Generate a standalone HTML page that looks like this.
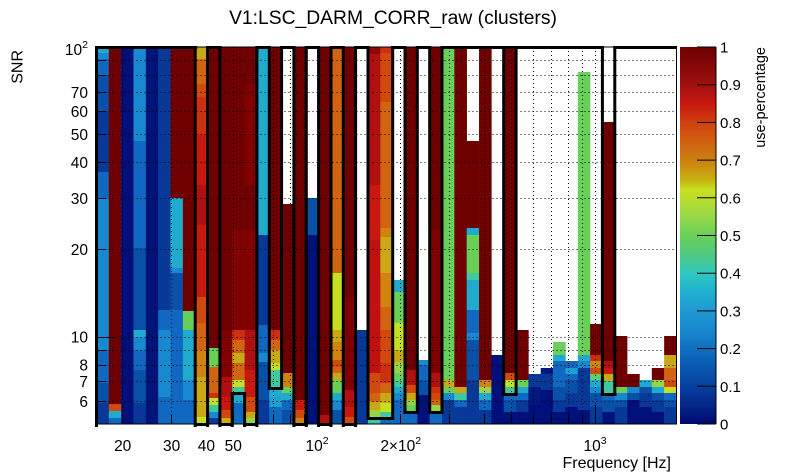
<!DOCTYPE html>
<html><head><meta charset="utf-8"><style>
html,body{margin:0;padding:0;background:#fff;width:805px;height:472px;overflow:hidden}
svg{display:block}
text{font-family:"Liberation Sans",Arial,sans-serif;fill:#000}
.DR{fill:#6e0000}.DR2{fill:#800000}.R0{fill:#900808}.R1{fill:#b01010}.Rc{fill:#c01010}.R2{fill:#c81810}.R3{fill:#cc3010}
.OR1{fill:#d04a10}.OR2{fill:#d06410}.OR3{fill:#d08410}.Y1{fill:#c8a814}.YG{fill:#c4e020}.LG{fill:#98d444}.G{fill:#68d058}.G2{fill:#58d070}
.TL{fill:#40c8a0}.C{fill:#20aacc}.C2{fill:#20a0d0}.B1{fill:#1888d0}.B2{fill:#1068c0}.B3{fill:#0850a8}.B4{fill:#083898}.N1{fill:#001880}.N{fill:#00107a}.N4{fill:#001478}
</style></head><body>
<svg width="805" height="472" viewBox="0 0 805 472" xmlns="http://www.w3.org/2000/svg">
<defs>
<linearGradient id="pal" x1="0" y1="0" x2="0" y2="1">
<stop offset="0" stop-color="#6e0000"/><stop offset="0.05" stop-color="#860808"/><stop offset="0.10" stop-color="#a01010"/>
<stop offset="0.15" stop-color="#c81810"/><stop offset="0.20" stop-color="#d04010"/><stop offset="0.25" stop-color="#d06010"/>
<stop offset="0.30" stop-color="#cc8010"/><stop offset="0.35" stop-color="#c8b010"/><stop offset="0.38" stop-color="#c8e020"/>
<stop offset="0.45" stop-color="#98d848"/><stop offset="0.50" stop-color="#68d058"/><stop offset="0.55" stop-color="#50c880"/>
<stop offset="0.60" stop-color="#30c8c0"/><stop offset="0.65" stop-color="#20b0d0"/><stop offset="0.70" stop-color="#2098d0"/>
<stop offset="0.75" stop-color="#1888d0"/><stop offset="0.80" stop-color="#1070c0"/><stop offset="0.85" stop-color="#0858b0"/>
<stop offset="0.90" stop-color="#0840a0"/><stop offset="0.95" stop-color="#042888"/><stop offset="1" stop-color="#000870"/>
</linearGradient>
</defs>

<text x="393" y="24" font-size="19.3" text-anchor="middle">V1:LSC_DARM_CORR_raw (clusters)</text>

<!-- histogram cells -->
<g transform="translate(96.5,0)"><rect width="12.6" y="47" height="6.5" class="C"/><rect width="12.6" y="53" height="6.5" class="B1"/><rect width="12.6" y="59" height="16.5" class="B2"/><rect width="12.6" y="75" height="37.5" class="B3"/><rect width="12.6" y="112" height="60.5" class="B4"/><rect width="12.6" y="172" height="26.5" class="B2"/><rect width="12.6" y="198" height="152.5" class="B1"/><rect width="12.6" y="350" height="33.5" class="B2"/><rect width="12.6" y="383" height="20.5" class="B3"/><rect width="12.6" y="403" height="21" class="B4"/></g>
<g transform="translate(108.84,0)"><rect width="12.6" y="47" height="357.5" class="DR"/><rect width="12.6" y="404" height="7.5" class="OR1"/><rect width="12.6" y="411" height="7.5" class="C"/><rect width="12.6" y="418" height="6" class="B2"/></g>
<g transform="translate(121.18,0)"><rect width="12.6" y="47" height="377" class="N"/></g>
<g transform="translate(133.52,0)"><rect width="12.6" y="47" height="94.5" class="B1"/><rect width="12.6" y="141" height="107.5" class="B2"/><rect width="12.6" y="248" height="82.5" class="B3"/><rect width="12.6" y="330" height="7.5" class="C"/><rect width="12.6" y="337" height="13.5" class="B1"/><rect width="12.6" y="350" height="20.5" class="B2"/><rect width="12.6" y="370" height="33.5" class="B3"/><rect width="12.6" y="403" height="21" class="B4"/></g>
<g transform="translate(145.86,0)"><rect width="12.6" y="47" height="377" class="N4"/></g>
<g transform="translate(158.2,0)"><rect width="12.6" y="47" height="263.5" class="B4"/><rect width="12.6" y="310" height="20.5" class="B2"/><rect width="12.6" y="330" height="67.5" class="B1"/><rect width="12.6" y="397" height="27" class="B2"/></g>
<g transform="translate(170.54,0)"><rect width="12.6" y="47" height="151.5" class="DR"/><rect width="12.6" y="198" height="70.5" class="C"/><rect width="12.6" y="268" height="5.5" class="B1"/><rect width="12.6" y="273" height="37.5" class="B3"/><rect width="12.6" y="310" height="114" class="B2"/></g>
<g transform="translate(182.88,0)"><rect width="12.6" y="47" height="264.5" class="DR"/><rect width="12.6" y="311" height="19.5" class="G"/><rect width="12.6" y="330" height="50.5" class="C"/><rect width="12.6" y="380" height="20.5" class="B1"/><rect width="12.6" y="400" height="24" class="B2"/></g>
<g transform="translate(195.22,0)"><rect width="12.6" y="47" height="12.5" class="Y1"/><rect width="12.6" y="59" height="25.5" class="OR2"/><rect width="12.6" y="84" height="13.5" class="OR1"/><rect width="12.6" y="97" height="38.5" class="R3"/><rect width="12.6" y="135" height="50.5" class="R2"/><rect width="12.6" y="185" height="40.5" class="R1"/><rect width="12.6" y="225" height="72.5" class="R2"/><rect width="12.6" y="297" height="26.5" class="OR1"/><rect width="12.6" y="323" height="27.5" class="OR2"/><rect width="12.6" y="350" height="27.5" class="OR3"/><rect width="12.6" y="377" height="40.5" class="Y1"/><rect width="12.6" y="417" height="7" class="YG"/></g>
<g transform="translate(207.56,0)"><rect width="12.6" y="47" height="301.5" class="DR"/><rect width="12.6" y="348" height="19.5" class="G"/><rect width="12.6" y="367" height="26.5" class="OR2"/><rect width="12.6" y="393" height="5.5" class="R3"/><rect width="12.6" y="398" height="7.5" class="YG"/><rect width="12.6" y="405" height="7.5" class="TL"/><rect width="12.6" y="412" height="6.5" class="B1"/><rect width="12.6" y="418" height="6" class="B4"/></g>
<g transform="translate(219.9,0)"><rect width="12.6" y="47" height="283.5" class="DR"/><rect width="12.6" y="330" height="47.5" class="DR2"/><rect width="12.6" y="377" height="20.5" class="R1"/><rect width="12.6" y="397" height="13.5" class="R2"/><rect width="12.6" y="410" height="8.5" class="OR1"/><rect width="12.6" y="418" height="6" class="Y1"/></g>
<g transform="translate(232.24,0)"><rect width="12.6" y="47" height="183.5" class="DR"/><rect width="12.6" y="230" height="100.5" class="DR2"/><rect width="12.6" y="330" height="10.5" class="R3"/><rect width="12.6" y="340" height="13.5" class="OR2"/><rect width="12.6" y="353" height="10.5" class="Y1"/><rect width="12.6" y="363" height="17.5" class="OR2"/><rect width="12.6" y="380" height="7.5" class="YG"/><rect width="12.6" y="387" height="6.5" class="TL"/><rect width="12.6" y="393" height="10.5" class="C"/><rect width="12.6" y="403" height="21" class="B2"/></g>
<g transform="translate(244.58,0)"><rect width="12.6" y="47" height="37.5" class="DR"/><rect width="12.6" y="84" height="101.5" class="DR2"/><rect width="12.6" y="185" height="45.5" class="DR"/><rect width="12.6" y="230" height="100.5" class="DR2"/><rect width="12.6" y="330" height="40.5" class="R1"/><rect width="12.6" y="370" height="27.5" class="R2"/><rect width="12.6" y="397" height="15.5" class="OR1"/><rect width="12.6" y="412" height="6.5" class="Y1"/><rect width="12.6" y="418" height="6" class="LG"/></g>
<g transform="translate(256.92,0)"><rect width="12.6" y="47" height="188.5" class="C"/><rect width="12.6" y="235" height="90.5" class="B4"/><rect width="12.6" y="325" height="28.5" class="B2"/><rect width="12.6" y="353" height="9.5" class="B1"/><rect width="12.6" y="362" height="38.5" class="B3"/><rect width="12.6" y="400" height="24" class="B4"/></g>
<g transform="translate(269.26,0)"><rect width="12.6" y="47" height="283.5" class="DR"/><rect width="12.6" y="330" height="10.5" class="R3"/><rect width="12.6" y="340" height="10.5" class="OR2"/><rect width="12.6" y="350" height="13.5" class="Y1"/><rect width="12.6" y="363" height="7.5" class="YG"/><rect width="12.6" y="370" height="17.5" class="TL"/><rect width="12.6" y="387" height="10.5" class="C"/><rect width="12.6" y="397" height="10.5" class="C2"/><rect width="12.6" y="407" height="17" class="B2"/></g>
<g transform="translate(281.6,0)"><rect width="12.6" y="204" height="169.5" class="DR"/><rect width="12.6" y="373" height="14.5" class="OR3"/><rect width="12.6" y="387" height="6.5" class="G"/><rect width="12.6" y="393" height="7.5" class="C"/><rect width="12.6" y="400" height="10.5" class="B2"/><rect width="12.6" y="410" height="14" class="B3"/></g>
<g transform="translate(293.94,0)"><rect width="12.6" y="47" height="353.5" class="DR"/><rect width="12.6" y="400" height="10.5" class="R2"/><rect width="12.6" y="410" height="8.5" class="OR1"/><rect width="12.6" y="418" height="6" class="OR3"/></g>
<g transform="translate(306.28,0)"><rect width="12.6" y="198" height="37.5" class="B3"/><rect width="12.6" y="235" height="189" class="N"/></g>
<g transform="translate(318.62,0)"><rect width="12.6" y="47" height="368.5" class="DR"/><rect width="12.6" y="415" height="9" class="R1"/></g>
<g transform="translate(330.96,0)"><rect width="12.6" y="47" height="226.5" class="OR2"/><rect width="12.6" y="273" height="57.5" class="YG"/><rect width="12.6" y="330" height="12.5" class="Y1"/><rect width="12.6" y="342" height="18.5" class="OR3"/><rect width="12.6" y="360" height="7.5" class="OR1"/><rect width="12.6" y="367" height="6.5" class="OR2"/><rect width="12.6" y="373" height="7.5" class="Y1"/><rect width="12.6" y="380" height="13.5" class="G"/><rect width="12.6" y="393" height="7.5" class="C"/><rect width="12.6" y="400" height="10.5" class="B1"/><rect width="12.6" y="410" height="14" class="B3"/></g>
<g transform="translate(343.3,0)"><rect width="12.6" y="47" height="250.5" class="DR"/><rect width="12.6" y="297" height="93.5" class="DR2"/><rect width="12.6" y="390" height="17.5" class="R1"/><rect width="12.6" y="407" height="10.5" class="R2"/><rect width="12.6" y="417" height="7" class="OR1"/></g>
<g transform="translate(355.64,0)"><rect width="12.6" y="330" height="94" class="B4"/></g>
<g transform="translate(367.98,0)"><rect width="12.6" y="47" height="7.5" class="R0"/><rect width="12.6" y="54" height="131.5" class="R1"/><rect width="12.6" y="185" height="55.5" class="R2"/><rect width="12.6" y="240" height="133.5" class="Rc"/><rect width="12.6" y="373" height="20.5" class="OR1"/><rect width="12.6" y="393" height="9.5" class="OR2"/><rect width="12.6" y="402" height="8.5" class="Y1"/><rect width="12.6" y="410" height="7.5" class="LG"/><rect width="12.6" y="417" height="7" class="TL"/></g>
<g transform="translate(380.32,0)"><rect width="12.6" y="47" height="6.5" class="R3"/><rect width="12.6" y="53" height="49.5" class="OR1"/><rect width="12.6" y="102" height="126.5" class="OR2"/><rect width="12.6" y="228" height="9.5" class="OR3"/><rect width="12.6" y="237" height="36.5" class="Y1"/><rect width="12.6" y="273" height="34.5" class="OR3"/><rect width="12.6" y="307" height="23.5" class="OR2"/><rect width="12.6" y="330" height="33.5" class="OR1"/><rect width="12.6" y="363" height="20.5" class="R3"/><rect width="12.6" y="383" height="10.5" class="OR2"/><rect width="12.6" y="393" height="10.5" class="Y1"/><rect width="12.6" y="403" height="9.5" class="YG"/><rect width="12.6" y="412" height="5.5" class="TL"/><rect width="12.6" y="417" height="7" class="B2"/></g>
<g transform="translate(392.66,0)"><rect width="12.6" y="280" height="12.5" class="C"/><rect width="12.6" y="292" height="31.5" class="G"/><rect width="12.6" y="323" height="27.5" class="YG"/><rect width="12.6" y="350" height="12.5" class="Y1"/><rect width="12.6" y="362" height="11.5" class="LG"/><rect width="12.6" y="373" height="8.5" class="G"/><rect width="12.6" y="381" height="6.5" class="TL"/><rect width="12.6" y="387" height="6.5" class="C"/><rect width="12.6" y="393" height="7.5" class="B1"/><rect width="12.6" y="400" height="24" class="B2"/></g>
<g transform="translate(405,0)"><rect width="12.6" y="47" height="323.5" class="DR"/><rect width="12.6" y="370" height="15.5" class="R1"/><rect width="12.6" y="385" height="8.5" class="OR1"/><rect width="12.6" y="393" height="7.5" class="Y1"/><rect width="12.6" y="400" height="5.5" class="LG"/><rect width="12.6" y="405" height="6.5" class="G"/><rect width="12.6" y="411" height="13" class="B2"/></g>
<g transform="translate(417.34,0)"><rect width="12.6" y="360" height="5.5" class="B1"/><rect width="12.6" y="365" height="15.5" class="B2"/><rect width="12.6" y="380" height="15.5" class="B3"/><rect width="12.6" y="395" height="29" class="N"/></g>
<g transform="translate(429.68,0)"><rect width="12.6" y="47" height="183.5" class="DR"/><rect width="12.6" y="230" height="143.5" class="DR2"/><rect width="12.6" y="373" height="14.5" class="R1"/><rect width="12.6" y="387" height="6.5" class="R3"/><rect width="12.6" y="393" height="7.5" class="OR1"/><rect width="12.6" y="400" height="5.5" class="OR2"/><rect width="12.6" y="405" height="6.5" class="LG"/><rect width="12.6" y="411" height="13" class="B2"/></g>
<g transform="translate(442.02,0)"><rect width="12.6" y="47" height="333.5" class="G"/><rect width="12.6" y="380" height="7.5" class="Y1"/><rect width="12.6" y="387" height="6.5" class="G"/><rect width="12.6" y="393" height="7.5" class="B1"/><rect width="12.6" y="400" height="24" class="B4"/></g>
<g transform="translate(454.36,0)"><rect width="12.6" y="47" height="340.5" class="DR"/><rect width="12.6" y="387" height="6.5" class="Y1"/><rect width="12.6" y="393" height="7.5" class="TL"/><rect width="12.6" y="400" height="7.5" class="B2"/><rect width="12.6" y="407" height="17" class="B4"/></g>
<g transform="translate(466.7,0)"><rect width="12.6" y="141" height="87.5" class="DR"/><rect width="12.6" y="228" height="7.5" class="C"/><rect width="12.6" y="235" height="38.5" class="G"/><rect width="12.6" y="273" height="7.5" class="TL"/><rect width="12.6" y="280" height="30.5" class="C"/><rect width="12.6" y="310" height="23.5" class="B2"/><rect width="12.6" y="333" height="7.5" class="B1"/><rect width="12.6" y="340" height="40.5" class="B3"/><rect width="12.6" y="380" height="44" class="B4"/></g>
<g transform="translate(479.04,0)"><rect width="12.6" y="47" height="333.5" class="DR"/><rect width="12.6" y="380" height="7.5" class="OR3"/><rect width="12.6" y="387" height="6.5" class="LG"/><rect width="12.6" y="393" height="7.5" class="C"/><rect width="12.6" y="400" height="10.5" class="B2"/><rect width="12.6" y="410" height="14" class="B4"/></g>
<g transform="translate(491.38,0)"><rect width="12.6" y="355" height="69" class="N"/></g>
<g transform="translate(503.72,0)"><rect width="12.6" y="47" height="326.5" class="DR"/><rect width="12.6" y="373" height="7.5" class="OR1"/><rect width="12.6" y="380" height="7.5" class="YG"/><rect width="12.6" y="387" height="6.5" class="TL"/><rect width="12.6" y="393" height="7.5" class="B2"/><rect width="12.6" y="400" height="12.5" class="B3"/><rect width="12.6" y="412" height="12" class="N"/></g>
<g transform="translate(516.06,0)"><rect width="12.6" y="330" height="50.5" class="DR"/><rect width="12.6" y="380" height="7.5" class="G"/><rect width="12.6" y="387" height="6.5" class="C"/><rect width="12.6" y="393" height="7.5" class="B2"/><rect width="12.6" y="400" height="12.5" class="B4"/><rect width="12.6" y="412" height="12" class="N"/></g>
<g transform="translate(528.4,0)"><rect width="12.6" y="374" height="13.5" class="B4"/><rect width="12.6" y="387" height="18.5" class="N1"/><rect width="12.6" y="405" height="19" class="N"/></g>
<g transform="translate(540.74,0)"><rect width="12.6" y="368" height="6.5" class="N1"/><rect width="12.6" y="374" height="16.5" class="B4"/><rect width="12.6" y="390" height="34" class="N"/></g>
<g transform="translate(553.08,0)"><rect width="12.6" y="342" height="13.5" class="G"/><rect width="12.6" y="355" height="6.5" class="C"/><rect width="12.6" y="361" height="26.5" class="B2"/><rect width="12.6" y="387" height="13.5" class="B3"/><rect width="12.6" y="400" height="12.5" class="B4"/><rect width="12.6" y="412" height="12" class="N"/></g>
<g transform="translate(565.42,0)"><rect width="12.6" y="361" height="7.5" class="B2"/><rect width="12.6" y="368" height="6.5" class="C2"/><rect width="12.6" y="374" height="6.5" class="B2"/><rect width="12.6" y="380" height="13.5" class="B3"/><rect width="12.6" y="393" height="14.5" class="B4"/><rect width="12.6" y="407" height="17" class="N"/></g>
<g transform="translate(577.76,0)"><rect width="12.6" y="72" height="283.5" class="G"/><rect width="12.6" y="355" height="6.5" class="C"/><rect width="12.6" y="361" height="7.5" class="B1"/><rect width="12.6" y="368" height="42.5" class="B4"/><rect width="12.6" y="410" height="14" class="N"/></g>
<g transform="translate(590.1,0)"><rect width="12.6" y="324" height="31.5" class="DR"/><rect width="12.6" y="355" height="6.5" class="R3"/><rect width="12.6" y="361" height="7.5" class="OR3"/><rect width="12.6" y="368" height="6.5" class="OR1"/><rect width="12.6" y="374" height="6.5" class="G2"/><rect width="12.6" y="380" height="7.5" class="C"/><rect width="12.6" y="387" height="6.5" class="B1"/><rect width="12.6" y="393" height="14.5" class="B3"/><rect width="12.6" y="407" height="17" class="B4"/></g>
<g transform="translate(602.44,0)"><rect width="12.6" y="122" height="239.5" class="DR"/><rect width="12.6" y="361" height="7.5" class="R1"/><rect width="12.6" y="368" height="6.5" class="R2"/><rect width="12.6" y="374" height="7.5" class="Y1"/><rect width="12.6" y="381" height="12.5" class="TL"/><rect width="12.6" y="393" height="7.5" class="B2"/><rect width="12.6" y="400" height="12.5" class="B3"/><rect width="12.6" y="412" height="12" class="N"/></g>
<g transform="translate(614.78,0)"><rect width="12.6" y="336" height="51.5" class="DR"/><rect width="12.6" y="387" height="6.5" class="G"/><rect width="12.6" y="393" height="7.5" class="B1"/><rect width="12.6" y="400" height="7.5" class="B3"/><rect width="12.6" y="407" height="17" class="B4"/></g>
<g transform="translate(627.12,0)"><rect width="12.6" y="374" height="13.5" class="DR"/><rect width="12.6" y="387" height="6.5" class="B1"/><rect width="12.6" y="393" height="7.5" class="B3"/><rect width="12.6" y="400" height="24" class="N"/></g>
<g transform="translate(639.46,0)"><rect width="12.6" y="380" height="7.5" class="C"/><rect width="12.6" y="387" height="6.5" class="B3"/><rect width="12.6" y="393" height="14.5" class="B4"/><rect width="12.6" y="407" height="17" class="N"/></g>
<g transform="translate(651.8,0)"><rect width="12.6" y="368" height="12.5" class="DR"/><rect width="12.6" y="380" height="7.5" class="LG"/><rect width="12.6" y="387" height="6.5" class="C"/><rect width="12.6" y="393" height="7.5" class="B3"/><rect width="12.6" y="400" height="12.5" class="B4"/><rect width="12.6" y="412" height="12" class="N"/></g>
<g transform="translate(664.14,0)"><rect width="12.36" y="336" height="19.5" class="DR"/><rect width="12.36" y="355" height="13.5" class="Y1"/><rect width="12.36" y="368" height="12.5" class="OR2"/><rect width="12.36" y="380" height="7.5" class="OR1"/><rect width="12.36" y="387" height="6.5" class="YG"/><rect width="12.36" y="393" height="7.5" class="B2"/><rect width="12.36" y="400" height="7.5" class="B3"/><rect width="12.36" y="407" height="17" class="B4"/></g>

<!-- gridlines -->
<g stroke="#000" stroke-width="1" stroke-dasharray="1 3" fill="none">
<path d="M122.5 47V424M171.5 47V424M206.5 47V424M233.5 47V424M255.5 47V424M273.5 47V424M290.5 47V424M304.5 47V424M317.5 47V424M400.5 47V424M449.5 47V424M484.5 47V424M511.5 47V424M533.5 47V424M551.5 47V424M568.5 47V424M582.5 47V424M595.5 47V424"/>
<path d="M96.5 60.5H676.5M96.5 75.5H676.5M96.5 92.5H676.5M96.5 111.5H676.5M96.5 134.5H676.5M96.5 162.5H676.5M96.5 198.5H676.5M96.5 249.5H676.5M96.5 337.5H676.5M96.5 350.5H676.5M96.5 365.5H676.5M96.5 381.5H676.5M96.5 401.5H676.5"/>
</g>

<!-- frame -->
<rect x="96.5" y="47" width="580" height="377" fill="none" stroke="#000" stroke-width="1"/>

<!-- axis ticks -->
<g stroke="#000" stroke-width="1">
<path d="M96.5 60.5h10M96.5 75.5h10M96.5 92.5h10M96.5 111.5h10M96.5 134.5h10M96.5 162.5h10M96.5 198.5h10M96.5 249.5h10M96.5 337.5h19M96.5 350.5h10M96.5 365.5h10M96.5 381.5h10M96.5 401.5h10"/>
<path d="M122.5 424v-10M171.5 424v-10M206.5 424v-10M233.5 424v-10M255.5 424v-10M273.5 424v-10M290.5 424v-10M304.5 424v-10M317.5 424v-19M400.5 424v-10M449.5 424v-10M484.5 424v-10M511.5 424v-10M533.5 424v-10M551.5 424v-10M568.5 424v-10M582.5 424v-10M595.5 424v-19"/>
</g>

<!-- cluster outlines -->
<g fill="#000">
<rect x="95" y="46" width="3" height="381"/>
<rect x="193.7" y="46" width="3" height="381"/>
<rect x="206.1" y="46" width="3" height="381"/>
<rect x="218.4" y="46" width="3" height="381"/>
<rect x="230.7" y="392" width="3" height="35"/>
<rect x="243.1" y="392" width="3" height="35"/>
<rect x="255.4" y="46" width="3" height="381"/>
<rect x="267.8" y="46" width="3" height="344"/>
<rect x="280.1" y="46" width="3" height="344"/>
<rect x="292.4" y="46" width="3" height="381"/>
<rect x="304.8" y="46" width="3" height="381"/>
<rect x="317.1" y="46" width="3" height="381"/>
<rect x="329.5" y="46" width="3" height="381"/>
<rect x="341.8" y="46" width="3" height="381"/>
<rect x="354.1" y="46" width="3" height="381"/>
<rect x="366.5" y="46" width="3" height="374"/>
<rect x="391.2" y="46" width="3" height="374"/>
<rect x="403.5" y="46" width="3" height="368"/>
<rect x="415.8" y="46" width="3" height="368"/>
<rect x="428.2" y="46" width="3" height="368"/>
<rect x="440.5" y="46" width="3" height="368"/>
<rect x="502.2" y="46" width="3" height="350"/>
<rect x="514.6" y="46" width="3" height="350"/>
<rect x="600.9" y="46" width="3" height="350"/>
<rect x="613.3" y="46" width="3" height="350"/>
<!-- top segments -->
<rect x="95" y="46" width="102.2" height="3"/>
<rect x="206.1" y="46" width="15.3" height="3"/>
<rect x="255.4" y="46" width="15.4" height="3"/>
<rect x="280.1" y="46" width="15.3" height="3"/>
<rect x="304.8" y="46" width="15.3" height="3"/>
<rect x="329.5" y="46" width="15.3" height="3"/>
<rect x="354.1" y="46" width="15.4" height="3"/>
<rect x="391.2" y="46" width="15.3" height="3"/>
<rect x="415.8" y="46" width="15.4" height="3"/>
<rect x="440.5" y="46" width="163.5" height="3"/>
<rect x="613.3" y="46" width="63.7" height="3"/>
<!-- bottom segments -->
<rect x="193.7" y="423" width="15.4" height="3"/>
<rect x="218.4" y="423" width="15.3" height="3"/>
<rect x="243.1" y="423" width="15.3" height="3"/>
<rect x="292.4" y="423" width="15.4" height="3"/>
<rect x="317.1" y="423" width="15.4" height="3"/>
<rect x="341.8" y="423" width="15.3" height="3"/>
<!-- inner horizontals -->
<rect x="267.8" y="387" width="15.3" height="3"/>
<rect x="230.7" y="392" width="15.4" height="3"/>
<rect x="366.5" y="417" width="27.7" height="3"/>
<rect x="403.5" y="411" width="15.3" height="3"/>
<rect x="428.2" y="411" width="15.3" height="3"/>
<rect x="502.2" y="393" width="15.4" height="3"/>
<rect x="600.9" y="393" width="15.4" height="3"/>
</g>

<!-- y labels -->
<g font-size="15.5" text-anchor="end">
<text x="88" y="55">10<tspan dy="-7" font-size="10.5">2</tspan></text>
<text x="88" y="97.8">70</text>
<text x="88" y="117">60</text>
<text x="88" y="140">50</text>
<text x="88" y="168">40</text>
<text x="88" y="204">30</text>
<text x="88" y="255.2">20</text>
<text x="88" y="342.6">10</text>
<text x="88" y="370.6">8</text>
<text x="88" y="387.2">7</text>
<text x="88" y="406.8">6</text>
</g>
<text transform="translate(22.5,50) rotate(-90)" font-size="16" text-anchor="end">SNR</text>

<!-- x labels -->
<g font-size="15.5" text-anchor="middle">
<text x="122.7" y="451">20</text>
<text x="171.6" y="451">30</text>
<text x="206.4" y="451">40</text>
<text x="233.3" y="451">50</text>
<text x="317" y="451">10<tspan dy="-7" font-size="10.5">2</tspan></text>
<text x="400.7" y="451">2×10<tspan dy="-7" font-size="10.5">2</tspan></text>
<text x="595" y="451">10<tspan dy="-7" font-size="10.5">3</tspan></text>
</g>
<text x="671" y="468" font-size="16" text-anchor="end">Frequency [Hz]</text>

<!-- colorbar -->
<rect x="680" y="47" width="36" height="377" fill="url(#pal)"/>
<g stroke="#000" stroke-width="1">
<path d="M716 47V424"/>
<path d="M697 47H716M697 84.7H716M697 122.4H716M697 160.1H716M697 197.8H716M697 235.5H716M697 273.2H716M697 310.9H716M697 348.6H716M697 386.3H716M697 424H716"/>
</g>
<g font-size="15">
<text x="720" y="52.5">1</text>
<text x="720" y="90.2">0.9</text>
<text x="720" y="127.9">0.8</text>
<text x="720" y="165.6">0.7</text>
<text x="720" y="203.3">0.6</text>
<text x="720" y="241">0.5</text>
<text x="720" y="278.7">0.4</text>
<text x="720" y="316.4">0.3</text>
<text x="720" y="354.1">0.2</text>
<text x="720" y="391.8">0.1</text>
<text x="720" y="429.5">0</text>
</g>
<text transform="translate(765,47) rotate(-90)" font-size="14.5" text-anchor="end">use-percentage</text>
</svg>
</body></html>
